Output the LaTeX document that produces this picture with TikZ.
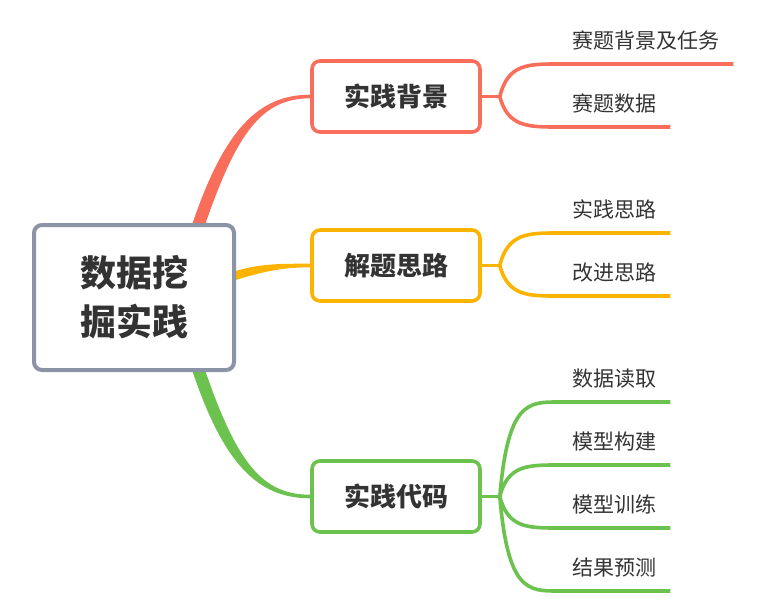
\documentclass[tikz,border=0pt]{standalone}
\usepackage{fontspec}
\setmainfont{Noto Sans CJK SC}
\usetikzlibrary{calc,backgrounds}

\definecolor{topicred}{HTML}{F96D5B}
\definecolor{topicyellow}{HTML}{FCB400}
\definecolor{topicgreen}{HTML}{6CC24F}
\definecolor{rootgray}{HTML}{8A94A6}
\definecolor{textdark}{HTML}{333333}

\tikzset{
    rootbox/.style={draw=rootgray, line width=4pt, rounded corners=8pt, fill=white,
        minimum width=200pt, minimum height=145pt, align=center,
        font=\fontsize{36}{49}\selectfont\bfseries, text=textdark},
    topicbox/.style={draw=#1, line width=3.6pt, rounded corners=8pt, fill=white,
        minimum width=168pt, minimum height=71pt,
        font=\fontsize{26}{30}\selectfont\bfseries, text=textdark},
    leaf/.style={anchor=south west, inner xsep=14pt, inner ysep=0pt,
        text height=17pt, text depth=15pt,
        font=\fontsize{21}{24}\selectfont, text=textdark},
    link/.style={line width=3.6pt, draw=#1},
}

\begin{document}
\begin{tikzpicture}[x=1pt, y=-1pt]
    \useasboundingbox (0,0) rectangle (780,613);

    % Central topic and main topics
    \node[rootbox] (root) at (134,297.5) {数据挖\\掘实践};
    \node[topicbox=topicred] (b1) at (396,96.5) {实践背景};
    \node[topicbox=topicyellow] (b2) at (396,265.5) {解题思路};
    \node[topicbox=topicgreen] (b3) at (396,496.5) {实践代码};

    % Tapered main branches (under the boxes)
    \begin{scope}[on background layer]
    \fill[topicred] ($(root.north)+(58,2)$) .. controls +(32,-95) and +(-52,0) .. ($(b1.west)+(0,-1.8)$)
        -- ($(b1.west)+(0,1.8)$) .. controls +(-48,0) and +(32,-93) .. ($(root.north)+(71,2)$) -- cycle;
    \fill[topicyellow] ($(root.east)+(-2,-26)$) .. controls +(26,-8) and +(-30,0) .. ($(b2.west)+(0,-1.8)$)
        -- ($(b2.west)+(0,1.8)$) .. controls +(-30,0) and +(26,-8) .. ($(root.east)+(-2,-17)$) -- cycle;
    \fill[topicgreen] ($(root.south)+(58,-2)$) .. controls +(32,95) and +(-52,0) .. ($(b3.west)+(0,1.8)$)
        -- ($(b3.west)+(0,-1.8)$) .. controls +(-48,0) and +(32,93) .. ($(root.south)+(71,-2)$) -- cycle;
    \end{scope}

    % Split points
    \coordinate (rs) at ($(b1.east)+(18,0)$);
    \coordinate (ys) at ($(b2.east)+(18,0)$);
    \coordinate (gs) at ($(b3.east)+(18,0)$);
    \draw[link=topicred] (b1.east) -- (rs);
    \draw[link=topicyellow] (b2.east) -- (ys);
    \draw[link=topicgreen] (b3.east) -- (gs);

    % Subtopics
    \foreach \n/\y/\t in {1/64/赛题背景及任务, 2/127/赛题数据} {
        \node[leaf] (r\n) at (558,\y) {\t};
        \draw[link=topicred] (rs) .. controls ($(rs |- r\n.south)+(8,0)$) and ($(r\n.south west)+(-30,0)$) .. (r\n.south west) -- (r\n.south east);
    }
    \foreach \n/\y/\t in {1/233/实践思路, 2/296/改进思路} {
        \node[leaf] (y\n) at (558,\y) {\t};
        \draw[link=topicyellow] (ys) .. controls ($(ys |- y\n.south)+(8,0)$) and ($(y\n.south west)+(-30,0)$) .. (y\n.south west) -- (y\n.south east);
    }
    \foreach \n/\y/\t in {1/402/数据读取, 2/465/模型构建, 3/528/模型训练, 4/591/结果预测} {
        \node[leaf] (g\n) at (558,\y) {\t};
        \draw[link=topicgreen] (gs) .. controls ($(gs |- g\n.south)+(8,0)$) and ($(g\n.south west)+(-30,0)$) .. (g\n.south west) -- (g\n.south east);
    }
\end{tikzpicture}
\end{document}
